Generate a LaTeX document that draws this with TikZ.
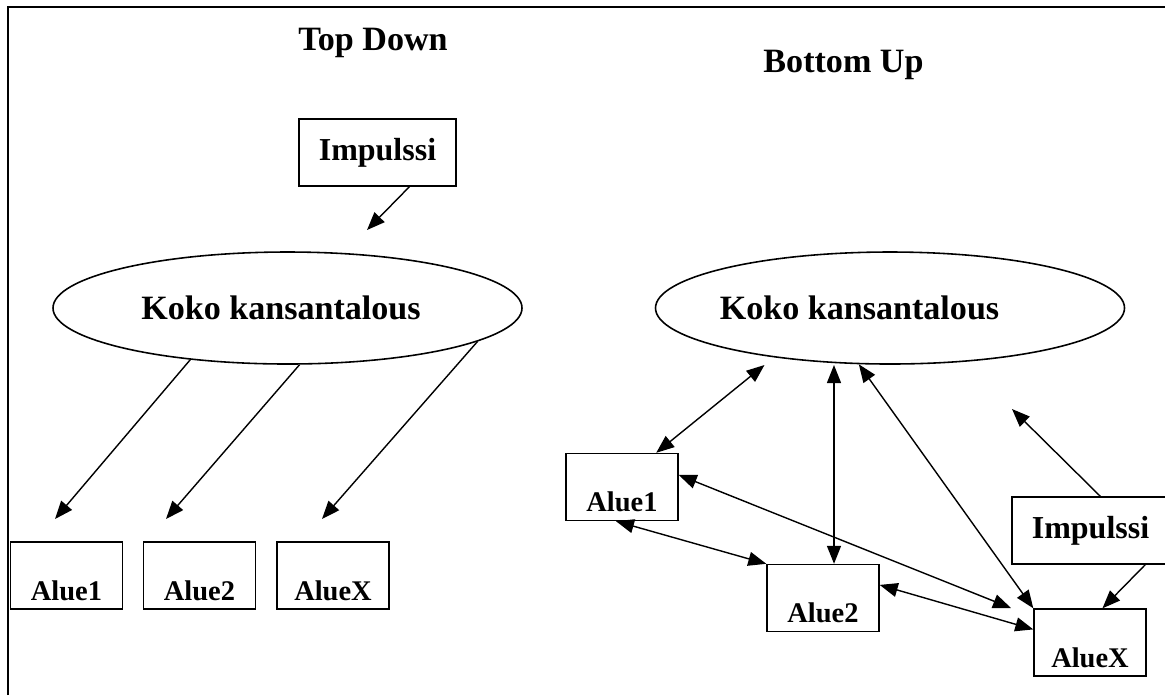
\documentclass[tikz,border=0pt]{standalone}
\usepackage{fontspec}
\setmainfont{Liberation Serif}
\usetikzlibrary{shapes.geometric, arrows.meta}

\begin{document}
\begin{tikzpicture}[
  every node/.style={font=\bfseries},
  title/.style={font=\fontsize{19.4}{23}\selectfont\bfseries, anchor=base, inner sep=0pt},
  impulse/.style={draw, line width=0.8pt, minimum width=3.14cm, minimum height=1.34cm, inner sep=0pt, font=\fontsize{18.2}{22}\selectfont\bfseries},
  region/.style={draw, line width=0.8pt, minimum width=2.24cm, inner sep=0.06cm, text height=1.1cm, text depth=0.12cm, font=\fontsize{16.2}{19}\selectfont\bfseries},
  economy/.style={draw, ellipse, line width=0.9pt, minimum width=9.38cm, minimum height=2.24cm, inner sep=0pt},
  eclabel/.style={font=\fontsize{19.4}{23}\selectfont\bfseries},
  arr/.style={-{Triangle[length=0.36cm, width=0.28cm]}, line width=0.8pt},
  biarr/.style={{Triangle[length=0.36cm, width=0.28cm]}-{Triangle[length=0.36cm, width=0.28cm]}, line width=0.8pt}
]
\useasboundingbox (0,0) rectangle (23.3,-13.9);
\draw[line width=1.2pt] (0.16,-13.9) |- (23.3,-0.14);

\node[title] (topdown)  at (7.46,-1.0)  {Top Down};
\node[title] (bottomup) at (16.87,-1.44) {Bottom Up};

% top down
\node[impulse] (imp1) at (7.55,-3.05) {Impulssi};
\node[economy, label={[eclabel, xshift=-0.13cm]center:Koko kansantalous}] (eco1) at (5.75,-6.16) {};
\node[region] (la1) at (1.33,-11.51) {Alue1};
\node[region] (la2) at (3.99,-11.51) {Alue2};
\node[region] (lax) at (6.66,-11.51) {AlueX};

\coordinate (imp1tip) at (7.34,-4.6);
\coordinate (la1tip) at (1.1,-10.38);
\coordinate (la2tip) at (3.32,-10.38);
\coordinate (laxtip) at (6.44,-10.38);

\draw[arr] (imp1.-47) -- (imp1tip);
\draw[arr] (eco1.-152) -- (la1tip);
\draw[arr] (eco1.-78) -- (la2tip);
\draw[arr] (eco1.-10) -- (laxtip);

% bottom up
\node[economy, label={[eclabel, xshift=-0.61cm]center:Koko kansantalous}] (eco2) at (17.8,-6.16) {};
\node[region] (ra1) at (12.44,-9.74) {Alue1};
\node[region] (ra2) at (16.46,-11.96) {Alue2};
\node[region] (rax) at (21.8,-12.85) {AlueX};
\node[impulse] (imp2) at (21.81,-10.61) {Impulssi};

\coordinate (ecoa) at (15.29,-7.3);
\coordinate (ecob) at (16.68,-7.3);
\coordinate (raxtip) at (20.22,-12.16);
\coordinate (imp2tip) at (20.24,-8.18);

\draw[biarr] (ecoa) -- (ra1.45);
\draw[biarr] (ecob) -- (ecob |- ra2.north);
\draw[biarr] (eco2.-119) -- (rax.north west);
\draw[biarr] (ra1.12) -- (raxtip);
\draw[biarr] (ra1.-100) -- (ra2.north west);
\draw[biarr] (ra2.13) -- (rax.167);
\draw[arr] (imp2.74) -- (imp2tip);
\draw[arr] (imp2.-32) -- (rax.70);
\end{tikzpicture}
\end{document}
